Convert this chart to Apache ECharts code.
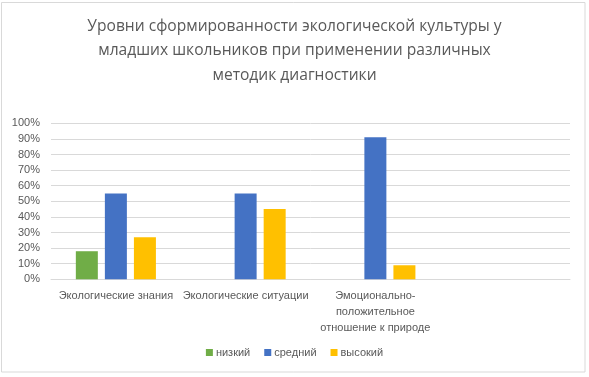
<!DOCTYPE html>
<html><head><meta charset="utf-8">
<script src="https://cdn.jsdelivr.net/npm/echarts@6/dist/echarts.min.js"></script>
<style>html,body{margin:0;padding:0;background:#fff}#c{width:589px;height:377px}</style>
</head><body><div id="c"></div>
<script>
const titleText = 'Уровни сформированности экологической культуры у\nмладших школьников при применении различных\nметодик диагностики';
const categories = ['Экологические знания', 'Экологические ситуации', 'Эмоционально-\nположительное\nотношение к природе', ''];
const seriesNames = ['низкий', 'средний', 'высокий'];
const lowValues = [18, 0, 0, null];
const midValues = [55, 55, 91, null];
const highValues = [27, 45, 9, null];
const colors = ['#70ad47', '#4472c4', '#ffc000'];

const chart = echarts.init(document.getElementById('c'), null, {renderer: 'canvas'});
const labelFont = 'Liberation Sans';
chart.setOption({
  animation: false,
  backgroundColor: '#fff',
  title: {
    text: titleText,
    left: 'center',
    top: 9,
    textStyle: {fontFamily: 'Open Sans', fontSize: 15.6, fontWeight: 'normal', color: '#595959', lineHeight: 24.5}
  },
  graphic: [{
    type: 'rect', shape: {x: 1.5, y: 2.5, width: 583.5, height: 369.5},
    style: {fill: 'none', stroke: '#d9d9d9', lineWidth: 1}, silent: true, z: -1
  }],
  legend: {
    bottom: 14,
    left: 'center',
    icon: 'rect',
    itemWidth: 7, itemHeight: 7, itemGap: 14,
    textStyle: {fontFamily: labelFont, fontSize: 11, color: '#595959', padding: [0, 0, 0, -2]},
    data: seriesNames
  },
  grid: {left: 51, right: 19, top: 123.3, bottom: 97.7, containLabel: false},
  xAxis: {
    type: 'category', data: categories,
    axisLine: {lineStyle: {color: '#d9d9d9'}},
    axisTick: {show: false},
    axisLabel: {interval: 0, fontFamily: labelFont, fontSize: 11, color: '#595959', margin: 9, lineHeight: 16}
  },
  yAxis: {
    type: 'value', min: 0, max: 100, interval: 10,
    axisLine: {show: false}, axisTick: {show: false},
    splitLine: {lineStyle: {color: '#d9d9d9', width: 1}},
    axisLabel: {formatter: '{value}%', fontFamily: labelFont, fontSize: 11, color: '#595959', margin: 11}
  },
  series: [
    {name: seriesNames[0], type: 'bar', data: lowValues, itemStyle: {color: colors[0]}, barWidth: 22, barGap: '32%'},
    {name: seriesNames[1], type: 'bar', data: midValues, itemStyle: {color: colors[1]}, barWidth: 22, barGap: '32%'},
    {name: seriesNames[2], type: 'bar', data: highValues, itemStyle: {color: colors[2]}, barWidth: 22, barGap: '32%'}
  ]
});
</script></body></html>
